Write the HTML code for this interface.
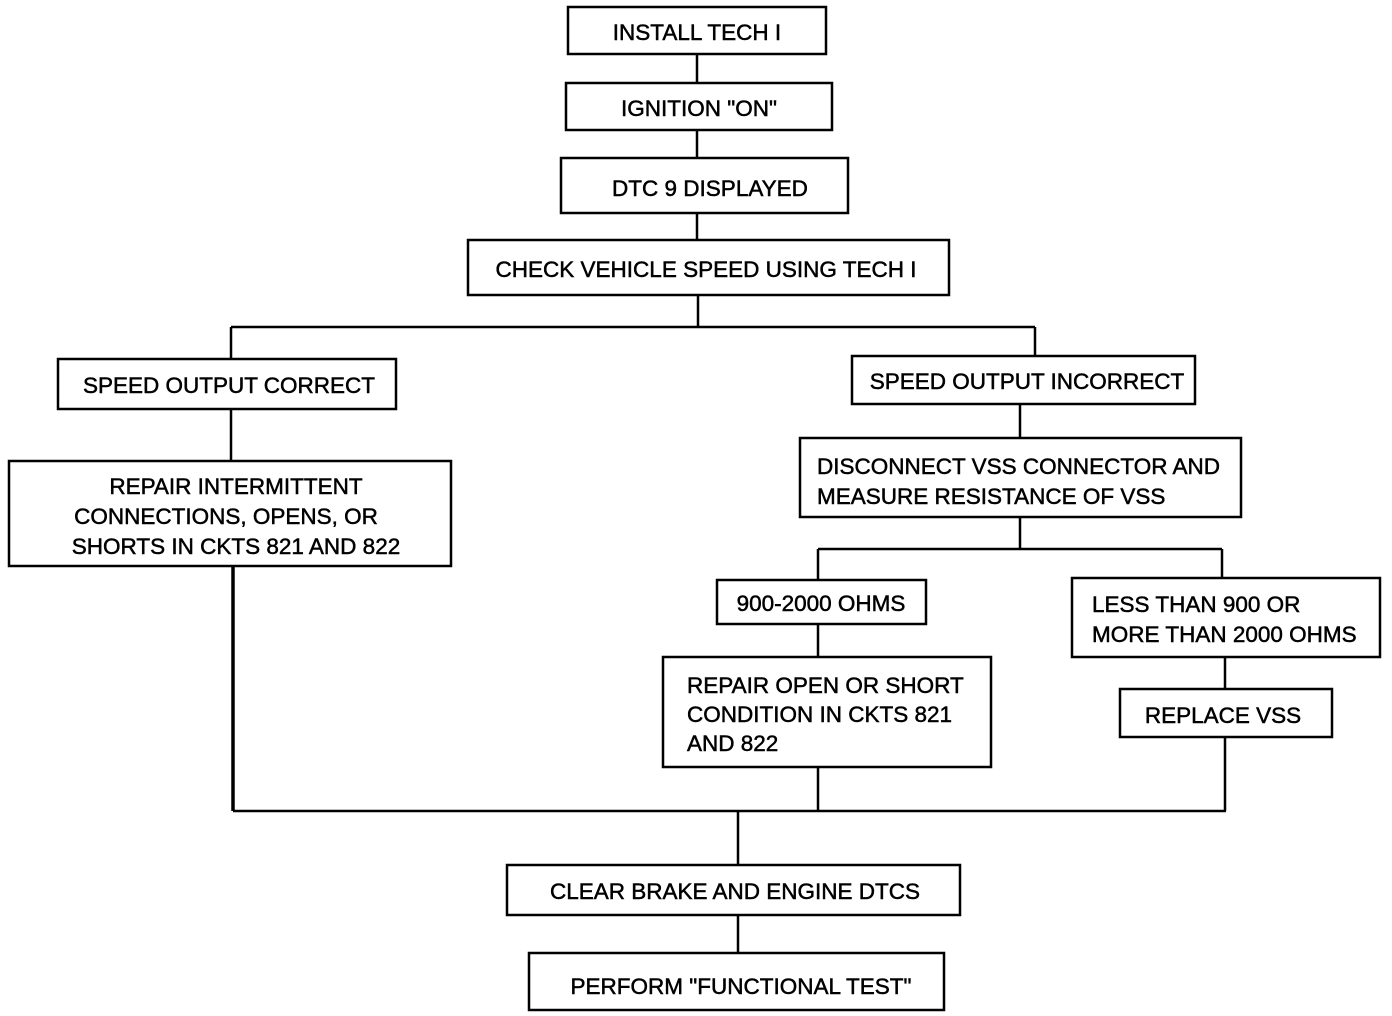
<!DOCTYPE html>
<html><head><meta charset="utf-8"><style>
html,body{margin:0;padding:0;background:#fff;}
svg{display:block}
text{font-family:"Liberation Sans",sans-serif;font-size:22.5px;fill:#000;stroke:#000;stroke-width:0.5;}
rect{fill:#fff;stroke:#000;stroke-width:2.5}
line{stroke:#000;stroke-width:2.5}
</style></head><body>
<svg width="1392" height="1016" viewBox="0 0 1392 1016">
<line x1="697" y1="54" x2="697" y2="83"/>
<line x1="697" y1="130" x2="697" y2="158"/>
<line x1="697" y1="213" x2="697" y2="240"/>
<line x1="698" y1="295" x2="698" y2="327"/>
<line x1="231" y1="327" x2="1035" y2="327"/>
<line x1="231" y1="327" x2="231" y2="359"/>
<line x1="1035" y1="327" x2="1035" y2="356"/>
<line x1="231" y1="409" x2="231" y2="461"/>
<line x1="1020" y1="404" x2="1020" y2="438"/>
<line x1="1020" y1="517" x2="1020" y2="549"/>
<line x1="818" y1="549" x2="1222" y2="549"/>
<line x1="818" y1="549" x2="818" y2="580"/>
<line x1="1222" y1="549" x2="1222" y2="578"/>
<line x1="818" y1="624" x2="818" y2="657"/>
<line x1="1225" y1="657" x2="1225" y2="689"/>
<line x1="233" y1="566" x2="233" y2="811" style="stroke-width:3.5"/>
<line x1="818" y1="767" x2="818" y2="811"/>
<line x1="1225" y1="737" x2="1225" y2="811"/>
<line x1="233" y1="811" x2="1226" y2="811"/>
<line x1="738" y1="811" x2="738" y2="865"/>
<line x1="738" y1="915" x2="738" y2="953"/>
<rect x="568" y="7" width="258" height="47"/>
<text x="697" y="40" text-anchor="middle">INSTALL TECH I</text>
<rect x="566" y="83" width="266" height="47"/>
<text x="699" y="116" text-anchor="middle">IGNITION "ON"</text>
<rect x="561" y="158" width="287" height="55"/>
<text x="710" y="196" text-anchor="middle">DTC 9 DISPLAYED</text>
<rect x="468" y="240" width="481" height="55"/>
<text x="706" y="277" text-anchor="middle">CHECK VEHICLE SPEED USING TECH I</text>
<rect x="58" y="359" width="338" height="50"/>
<text x="229" y="393" text-anchor="middle">SPEED OUTPUT CORRECT</text>
<rect x="852" y="356" width="343" height="48"/>
<text x="1027" y="389" text-anchor="middle">SPEED OUTPUT INCORRECT</text>
<rect x="9" y="461" width="442" height="105"/>
<text x="236" y="494" text-anchor="middle">REPAIR INTERMITTENT</text>
<text x="226" y="524" text-anchor="middle">CONNECTIONS, OPENS, OR</text>
<text x="236" y="554" text-anchor="middle">SHORTS IN CKTS 821 AND 822</text>
<rect x="800" y="438" width="441" height="79"/>
<text x="817" y="474">DISCONNECT VSS CONNECTOR AND</text>
<text x="817" y="504">MEASURE RESISTANCE OF VSS</text>
<rect x="717" y="580" width="209" height="44"/>
<text x="821" y="611" text-anchor="middle">900-2000 OHMS</text>
<rect x="1072" y="578" width="308" height="79"/>
<text x="1092" y="612">LESS THAN 900 OR</text>
<text x="1092" y="642">MORE THAN 2000 OHMS</text>
<rect x="663" y="657" width="328" height="110"/>
<text x="687" y="693">REPAIR OPEN OR SHORT</text>
<text x="687" y="722">CONDITION IN CKTS 821</text>
<text x="687" y="751">AND 822</text>
<rect x="1120" y="689" width="212" height="48"/>
<text x="1223" y="723" text-anchor="middle">REPLACE VSS</text>
<rect x="507" y="865" width="453" height="50"/>
<text x="735" y="899" text-anchor="middle">CLEAR BRAKE AND ENGINE DTCS</text>
<rect x="529" y="953" width="415" height="57"/>
<text x="741" y="994" text-anchor="middle">PERFORM "FUNCTIONAL TEST"</text>
</svg>
</body></html>
